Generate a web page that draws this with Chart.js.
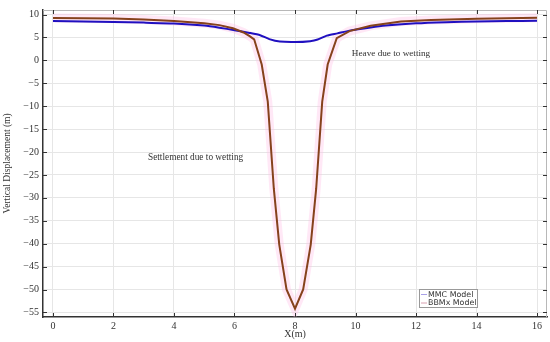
<!DOCTYPE html>
<html>
<head>
<meta charset="utf-8">
<script src="https://cdn.jsdelivr.net/npm/chart.js@4"></script>
<style>
  html, body { margin: 0; padding: 0; background: #fff; }
  #wrap { width: 550px; height: 342px; }
</style>
</head>
<body>
<div id="wrap"><canvas id="dispChart"></canvas></div>
<script>
const xTicks = [0, 2, 4, 6, 8, 10, 12, 14, 16];
const yTicks = [10, 5, 0, -5, -10, -15, -20, -25, -30, -35, -40, -45, -50, -55];

// MMC Model
const mmcX = [0, 1, 2, 3, 4, 5, 5.5, 6, 6.5, 6.85, 7.15, 7.5, 8, 8.5, 8.75, 9.05, 9.4, 9.8, 10.5, 11, 12, 13, 14, 15, 16];
const mmcY = [8.6, 8.5, 8.4, 8.25, 8.05, 7.6, 7.15, 6.6, 6.0, 5.5, 4.65, 4.1, 4.0, 4.2, 4.55, 5.4, 5.9, 6.5, 7.2, 7.6, 8.1, 8.35, 8.5, 8.58, 8.63];

// BBMx Model
const bbmX = [0, 1, 2, 3, 4, 5, 5.5, 5.95, 6.3, 6.5, 6.65, 6.9, 7.1, 7.3, 7.48, 7.72, 8, 8.27, 8.52, 8.7, 8.9, 9.08, 9.38, 9.8, 10.5, 11.5, 12.5, 14, 16];
const bbmY = [9.27, 9.22, 9.12, 8.95, 8.6, 8.1, 7.7, 7.0, 6.1, 5.3, 4.6, -0.9, -9, -28, -40.2, -50, -54.2, -50, -40.2, -28, -9, -0.9, 4.85, 6.4, 7.55, 8.5, 8.8, 9.1, 9.3];

const noteText = ["Heave due to wetting", "Settlement due to wetting"];

const serif = "'Liberation Serif', 'DejaVu Serif', serif";
const toPts = (xs, ys) => xs.map((x, i) => ({ x: x, y: ys[i] }));

const framePlugin = {
  id: "frame",
  afterDatasetsDraw(chart) {
    const { ctx, chartArea: a, scales } = chart;
    ctx.save();
    // top and right frame
    ctx.strokeStyle = "#b8b8b8";
    ctx.lineWidth = 1;
    ctx.beginPath();
    ctx.moveTo(a.left, a.top + 0.5);
    ctx.lineTo(a.right - 0.5, a.top + 0.5);
    ctx.lineTo(a.right - 0.5, a.bottom);
    ctx.stroke();
    // inward ticks
    ctx.strokeStyle = "#333";
    ctx.beginPath();
    xTicks.forEach(v => {
      const px = Math.round(scales.x.getPixelForValue(v)) + 0.5;
      ctx.moveTo(px, a.bottom); ctx.lineTo(px, a.bottom - 4);
      ctx.moveTo(px, a.top); ctx.lineTo(px, a.top + 4);
    });
    yTicks.forEach(v => {
      const py = Math.round(scales.y.getPixelForValue(v)) + 0.5;
      ctx.moveTo(a.left, py); ctx.lineTo(a.left + 4, py);
      ctx.moveTo(a.right, py); ctx.lineTo(a.right - 4, py);
    });
    ctx.stroke();

    // annotations
    ctx.fillStyle = "#333";
    ctx.textBaseline = "middle";
    ctx.font = "9.2px " + serif;
    ctx.fillText(noteText[0], scales.x.getPixelForValue(9.88), scales.y.getPixelForValue(1.4));
    ctx.font = "9.3px " + serif;
    ctx.fillText(noteText[1], scales.x.getPixelForValue(3.14), scales.y.getPixelForValue(-21.3));

    // legend box
    const sets = chart.data.datasets.filter(d => d.label);
    const bx = 419, by = 289, bw = 58, bh = 18;
    ctx.fillStyle = "#fff";
    ctx.fillRect(bx, by, bw, bh);
    ctx.strokeStyle = "#999";
    ctx.strokeRect(bx + 0.5, by + 0.5, bw, bh);
    ctx.font = "7.9px 'DejaVu Sans', sans-serif";
    sets.forEach((d, i) => {
      const yy = by + 5 + i * 8.5;
      ctx.strokeStyle = d.legendColor;
      ctx.beginPath();
      ctx.moveTo(bx + 2, yy + 0.5); ctx.lineTo(bx + 8, yy + 0.5);
      ctx.stroke();
      ctx.fillStyle = "#333";
      ctx.fillText(d.label, bx + 9, yy + 0.5);
    });
    ctx.restore();
  }
};

new Chart(document.getElementById("dispChart"), {
  type: "line",
  data: {
    datasets: [
      {
        data: toPts(bbmX, bbmY),
        borderColor: "rgba(255, 190, 230, 0.35)",
        borderWidth: 9,
        pointRadius: 0,
        tension: 0,
        order: 3,
      },
      {
        label: "MMC Model",
        data: toPts(mmcX, mmcY),
        borderColor: "#2010c0",
        legendColor: "#a8a0e8",
        borderWidth: 2,
        pointRadius: 0,
        tension: 0.2,
        order: 2,
      },
      {
        label: "BBMx Model",
        data: toPts(bbmX, bbmY),
        borderColor: "#86421c",
        legendColor: "#d8a0b0",
        borderWidth: 2,
        pointRadius: 0,
        tension: 0,
        order: 1,
      },
    ],
  },
  options: {
    responsive: true,
    maintainAspectRatio: false,
    animation: false,
    layout: { padding: { top: 4, right: 3, left: 0, bottom: 0 } },
    scales: {
      x: {
        type: "linear",
        min: -0.33,
        max: 16.33,
        afterBuildTicks: s => { s.ticks = xTicks.map(v => ({ value: v })); },
        afterFit: s => { s.height = 25; },
        grid: { color: "#e6e6e6", drawTicks: false },
        border: { color: "#333", width: 1.5 },
        ticks: { font: { family: serif, size: 10 }, color: "#333", padding: 3, maxRotation: 0 },
        title: { display: true, text: "X(m)", font: { family: serif, size: 10 }, color: "#333", padding: { top: 0, bottom: 2 } },
      },
      y: {
        type: "linear",
        min: -56,
        max: 11,
        afterBuildTicks: s => { s.ticks = yTicks.map(v => ({ value: v })); },
        afterFit: s => { s.width = 43; },
        grid: { color: "#e6e6e6", drawTicks: false },
        border: { color: "#333", width: 1.5 },
        ticks: {
          font: { family: serif, size: 10 },
          color: "#333",
          padding: 4,
          callback: v => String(v).replace("-", "\u2212"),
        },
        title: { display: true, text: "Vertical Displacement (m)", font: { family: serif, size: 9.5 }, color: "#333", padding: { top: 2, bottom: 0 } },
      },
    },
    plugins: {
      legend: { display: false },
      tooltip: { enabled: false },
    },
  },
  plugins: [framePlugin],
});
</script>
</body>
</html>
